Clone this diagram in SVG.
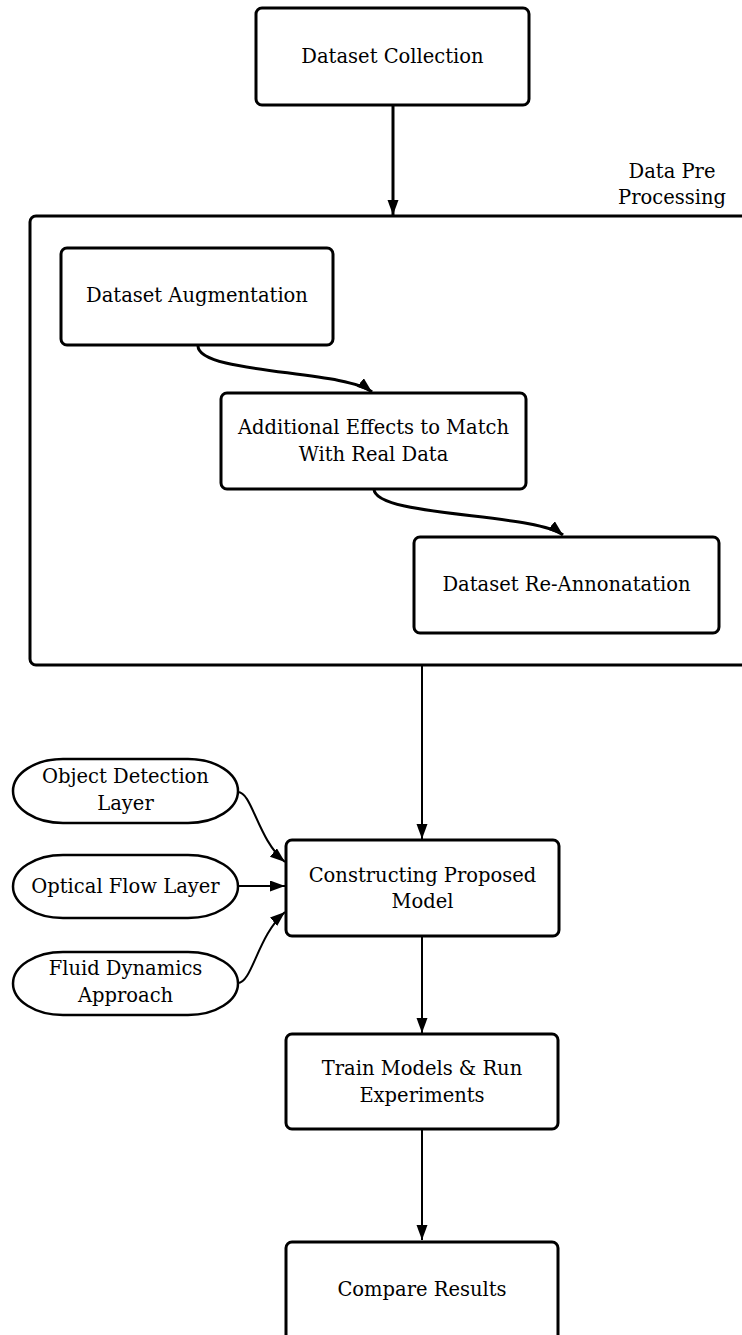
<svg xmlns="http://www.w3.org/2000/svg" width="742" height="1335" viewBox="0 0 742 1335">
<defs>
<style>
.box{fill:#fff;stroke:#000;stroke-width:3}
.pill{fill:#fff;stroke:#000;stroke-width:2.5}
.lbl{font-family:"DejaVu Serif","Liberation Serif",serif;font-size:19.5px;fill:#000;text-anchor:middle}
.edge{fill:none;stroke:#000;stroke-width:2}
.thick{stroke-width:3}
</style>
<marker id="ah" markerUnits="userSpaceOnUse" markerWidth="16" markerHeight="12" refX="15" refY="5.5" orient="auto">
<path d="M0,0 L15,5.5 L0,11 z" fill="#000"/>
</marker>
</defs>
<rect width="742" height="1335" fill="#fff"/>
<g id="container">
<rect class="box" x="30" y="216" width="760" height="449" rx="6"/>
<text class="lbl" x="672" y="178">Data Pre</text>
<text class="lbl" x="672" y="204">Processing</text>
</g>
<g id="connectors">
<line class="edge thick" x1="393" y1="105" x2="393" y2="215" marker-end="url(#ah)"/>
<path class="edge thick" d="M198,346 C198,374 345,370 372,392" marker-end="url(#ah)"/>
<path class="edge thick" d="M374,489 C374,517 536,513 563,535" marker-end="url(#ah)"/>
<line class="edge" x1="422" y1="665" x2="422" y2="839" marker-end="url(#ah)"/>
<path class="edge" d="M238,792 C252,792 258,840 285,862" marker-end="url(#ah)"/>
<line class="edge" x1="238" y1="886" x2="285" y2="886" marker-end="url(#ah)"/>
<path class="edge" d="M238,983 C252,983 258,935 285,912" marker-end="url(#ah)"/>
<line class="edge" x1="422" y1="936" x2="422" y2="1033" marker-end="url(#ah)"/>
<line class="edge" x1="422" y1="1129" x2="422" y2="1240" marker-end="url(#ah)"/>
</g>
<g id="dataset-collection">
<rect class="box" x="256" y="8" width="273" height="97" rx="6"/>
<text class="lbl" x="392.5" y="63">Dataset Collection</text>
</g>
<g id="dataset-augmentation">
<rect class="box" x="61" y="248" width="272" height="97" rx="6"/>
<text class="lbl" x="197" y="302">Dataset Augmentation</text>
</g>
<g id="additional-effects">
<rect class="box" x="221" y="393" width="305" height="96" rx="6"/>
<text class="lbl" x="373.5" y="434">Additional Effects to Match</text>
<text class="lbl" x="373.5" y="461">With Real Data</text>
</g>
<g id="dataset-reannotation">
<rect class="box" x="414" y="537" width="305" height="96" rx="6"/>
<text class="lbl" x="566.5" y="591">Dataset Re-Annonatation</text>
</g>
<g id="object-detection">
<rect class="pill" x="13" y="759" width="225" height="64" rx="50" ry="32"/>
<text class="lbl" x="125.5" y="783">Object Detection</text>
<text class="lbl" x="125.5" y="810">Layer</text>
</g>
<g id="optical-flow">
<rect class="pill" x="13" y="855" width="225" height="63" rx="50" ry="31.5"/>
<text class="lbl" x="125.5" y="893">Optical Flow Layer</text>
</g>
<g id="fluid-dynamics">
<rect class="pill" x="13" y="952" width="225" height="63" rx="50" ry="31.5"/>
<text class="lbl" x="125.5" y="975">Fluid Dynamics</text>
<text class="lbl" x="125.5" y="1002">Approach</text>
</g>
<g id="constructing-model">
<rect class="box" x="286" y="840" width="273" height="96" rx="6"/>
<text class="lbl" x="422.5" y="882">Constructing Proposed</text>
<text class="lbl" x="422.5" y="908">Model</text>
</g>
<g id="train-models">
<rect class="box" x="286" y="1034" width="272" height="95" rx="6"/>
<text class="lbl" x="422" y="1075">Train Models &amp; Run</text>
<text class="lbl" x="422" y="1102">Experiments</text>
</g>
<g id="compare-results">
<rect class="box" x="286" y="1242" width="272" height="110" rx="6"/>
<text class="lbl" x="422" y="1296">Compare Results</text>
</g>
</svg>
